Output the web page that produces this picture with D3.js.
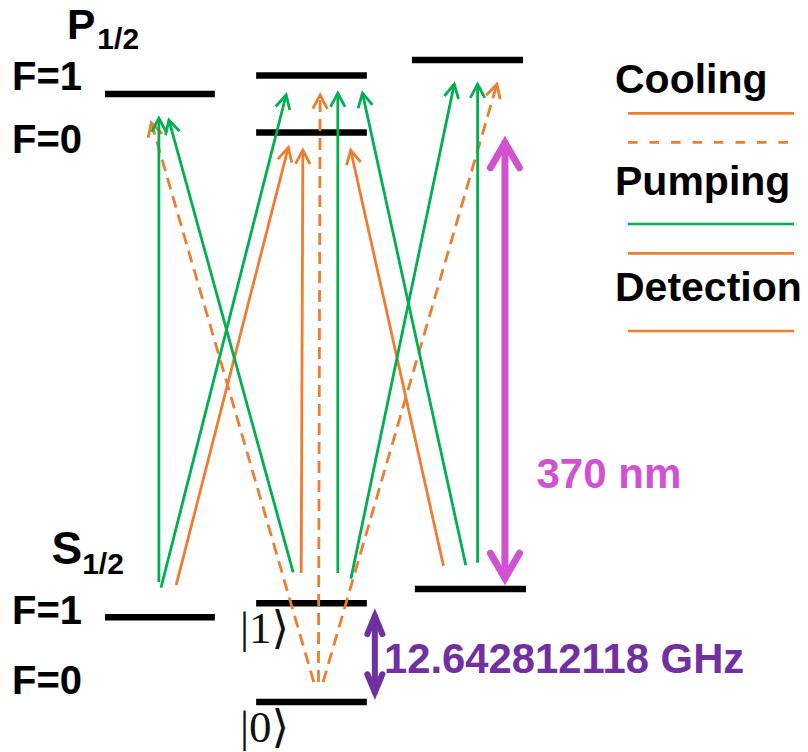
<!DOCTYPE html>
<html>
<head>
<meta charset="utf-8">
<script src="https://cdn.jsdelivr.net/npm/d3@7"></script>
<style>
  html, body { margin: 0; padding: 0; background: #fff; }
  svg { display: block; }
</style>
</head>
<body>
<svg id="chart" width="808" height="752"></svg>
<script>
// Hyperfine levels of S1/2 and P1/2 with the laser transitions used for
// cooling, optical pumping and detection.
// Horizontal position: 0–100 across the three level columns.
// Energy: arbitrary units, 0 at the S1/2 F=0 (|0⟩) level.

const pLevels = [
  { column: "left",   x0: 0,    x1: 26.1, e: 94.7 },
  { column: "middle", x0: 35.9, x1: 62.2, e: 97.6 },
  { column: "middle", x0: 35.9, x1: 62.2, e: 88.7 },
  { column: "right",  x0: 72.9, x1: 99.3, e: 100 }
];

const sLevels = [
  { column: "left",   x0: 0,    x1: 26.1, e: 13.2, ket: null },
  { column: "middle", x0: 35.9, x1: 62.2, e: 15.4, ket: "1" },
  { column: "middle", x0: 35.9, x1: 62.2, e: 0,    ket: "0" },
  { column: "right",  x0: 73.6, x1: 100,  e: 17.6, ket: null }
];

// Transitions: [x from, e from, x to, e to]
const pumpingTransitions = [
  [12.8, 18.7, 12.8, 91.4],
  [44.7, 20.2, 15.0, 91.1],
  [13.3, 17.8, 43.2, 95.0],
  [55.3, 20.1, 55.3, 95.3],
  [58.4, 19.2, 83.1, 96.7],
  [85.7, 21.3, 61.0, 95.3],
  [88.5, 21.7, 88.5, 96.7]
];

const coolingTransitions = [
  [16.9, 18.2, 43.7, 86.8],
  [46.6, 20.1, 47.0, 86.4],
  [80.4, 21.2, 58.2, 86.4]
];

const sidebandTransitions = [
  [49.6, 3.1, 10.8, 90.7],
  [50.7, 3.1, 51.1, 95.0],
  [51.8, 3.1, 93.3, 96.7]
];

// Double arrows: [x, e top, e bottom]
const opticalGap = [95.0, 88.2, 18.2];
const hyperfineGap = [64.1, 14.6, 0.3];

const opticalLabel = "370 nm";
const hyperfineLabel = "12.642812118 GHz";

const legendLabels = ["Cooling", "Pumping", "Detection"];
const legendSwatches = [
  { group: 0, kind: "orange" },
  { group: 0, kind: "dashed" },
  { group: 1, kind: "green" },
  { group: 1, kind: "orange" },
  { group: 2, kind: "orange" }
];

const GREEN = "#00B050";
const ORANGE = "#ED7D31";
const MAGENTA = "#D152D1";
const PURPLE = "#7030A0";
const SANS = "'Liberation Sans', Arial, Helvetica, sans-serif";
const SERIF = "'Liberation Serif', 'DejaVu Serif', serif";

const svg = d3.select("#chart");
svg.append("rect").attr("width", 808).attr("height", 752).attr("fill", "#fff");

const x = d3.scaleLinear().domain([0, 100]).range([105, 526]);
const y = d3.scaleLinear().domain([0, 100]).range([702, 60]);

// ---- energy levels ----
const levelG = svg.append("g");
levelG.selectAll("line")
  .data(pLevels.concat(sLevels))
  .join("line")
  .attr("x1", d => x(d.x0))
  .attr("x2", d => x(d.x1))
  .attr("y1", d => y(d.e))
  .attr("y2", d => y(d.e))
  .attr("stroke", "#000")
  .attr("stroke-width", 6.5);

// ---- transition arrows ----
const ARROW_W = 2.8;
function arrowGeometry(t, w, leg, ang) {
  const x1 = x(t[0]), y1 = y(t[1]), x2 = x(t[2]), y2 = y(t[3]);
  const dx = x2 - x1, dy = y2 - y1, L = Math.hypot(dx, dy);
  const ux = dx / L, uy = dy / L;
  const ext = (w / 2) / Math.sin(ang);
  const vx = x2 - ux * ext, vy = y2 - uy * ext;
  const bx = -ux, by = -uy, c = Math.cos(ang), s = Math.sin(ang);
  const l1x = vx + leg * (bx * c - by * s), l1y = vy + leg * (bx * s + by * c);
  const l2x = vx + leg * (bx * c + by * s), l2y = vy + leg * (-bx * s + by * c);
  return {
    shaft: `M${x1},${y1}L${vx},${vy}`,
    head: `M${l1x},${l1y}L${vx},${vy}L${l2x},${l2y}`
  };
}

function drawTransitions(data, color, dashed) {
  const g = svg.append("g");
  const geo = data.map(t => arrowGeometry(t, ARROW_W, 15.5, 28 * Math.PI / 180));
  g.selectAll("path.shaft")
    .data(geo)
    .join("path")
    .attr("class", "shaft")
    .attr("d", d => d.shaft)
    .attr("fill", "none")
    .attr("stroke", color)
    .attr("stroke-width", ARROW_W)
    .attr("stroke-dasharray", dashed ? "12,7" : null);
  g.selectAll("path.head")
    .data(geo)
    .join("path")
    .attr("class", "head")
    .attr("d", d => d.head)
    .attr("fill", "none")
    .attr("stroke", color)
    .attr("stroke-width", ARROW_W)
    .attr("stroke-linejoin", "miter");
}

drawTransitions(sidebandTransitions, ORANGE, true);
drawTransitions(coolingTransitions, ORANGE, false);
drawTransitions(pumpingTransitions, GREEN, false);

// ---- double arrows marking the level spacings ----
function doubleArrow(spec, color, w, half, len) {
  const cx = x(spec[0]), top = y(spec[1]), bot = y(spec[2]);
  const a = Math.atan(half / len);
  const ext = (w / 2) / Math.sin(a);
  const t = top + ext, b = bot - ext;
  const g = svg.append("g")
    .attr("fill", "none")
    .attr("stroke", color)
    .attr("stroke-width", w)
    .attr("stroke-linecap", "round")
    .attr("stroke-linejoin", "miter");
  g.append("path").attr("d", `M${cx},${t}L${cx},${b}`);
  g.append("path").attr("d", `M${cx - half},${t + len}L${cx},${t}L${cx + half},${t + len}`);
  g.append("path").attr("d", `M${cx - half},${b - len}L${cx},${b}L${cx + half},${b - len}`);
}

doubleArrow(opticalGap, MAGENTA, 7, 14.5, 25);
doubleArrow(hyperfineGap, PURPLE, 6, 7.5, 18);

svg.append("text")
  .attr("x", 536.5).attr("y", 488)
  .attr("font-family", SANS).attr("font-weight", "bold").attr("font-size", 42)
  .attr("fill", MAGENTA)
  .text(opticalLabel);

svg.append("text")
  .attr("x", 384).attr("y", 673)
  .attr("font-family", SANS).attr("font-weight", "bold").attr("font-size", 41.8)
  .attr("fill", PURPLE)
  .text(hyperfineLabel);

// ---- level labels ----
const labelG = svg.append("g")
  .attr("font-family", SANS).attr("font-weight", "bold").attr("fill", "#000");

const pTerm = labelG.append("text").attr("x", 67).attr("y", 38.5).attr("font-size", 42.5);
pTerm.append("tspan").text("P");
pTerm.append("tspan").attr("font-size", 30).attr("dy", 10).attr("dx", 2).text("1/2");

const sTerm = labelG.append("text").attr("x", 51.5).attr("y", 564).attr("font-size", 46);
sTerm.append("tspan").text("S");
sTerm.append("tspan").attr("font-size", 30).attr("dy", 10).text("1/2");

const fLabels = [
  { text: "F=1", yb: 90 },
  { text: "F=0", yb: 152.5 },
  { text: "F=1", yb: 624 },
  { text: "F=0", yb: 694 }
];
labelG.selectAll("text.f")
  .data(fLabels)
  .join("text")
  .attr("class", "f")
  .attr("x", 12)
  .attr("y", d => d.yb)
  .attr("font-size", 40)
  .text(d => d.text);

// ket labels under the middle S1/2 levels
svg.append("g").selectAll("text")
  .data(sLevels.filter(d => d.ket !== null))
  .join("text")
  .attr("x", 240)
  .attr("y", d => y(d.e) + 40)
  .attr("font-family", SERIF)
  .attr("font-size", 45)
  .attr("fill", "#111")
  .text(d => `|${d.ket}⟩`);

// ---- legend ----
const legendTextY = [93.3, 195, 300.7];
const swatchY = [113.3, 142.3, 224, 253.3, 331];
const legendG = svg.append("g");
legendG.selectAll("text")
  .data(legendLabels)
  .join("text")
  .attr("x", 615)
  .attr("y", (d, i) => legendTextY[i])
  .attr("font-family", SANS).attr("font-weight", "bold").attr("font-size", 41)
  .attr("fill", "#000")
  .text(d => d);
legendG.selectAll("line")
  .data(legendSwatches)
  .join("line")
  .attr("x1", 628).attr("x2", 794)
  .attr("y1", (d, i) => swatchY[i])
  .attr("y2", (d, i) => swatchY[i])
  .attr("stroke", d => d.kind === "green" ? GREEN : ORANGE)
  .attr("stroke-width", 2.7)
  .attr("stroke-dasharray", d => d.kind === "dashed" ? "9.5,12" : null);
</script>
</body>
</html>
